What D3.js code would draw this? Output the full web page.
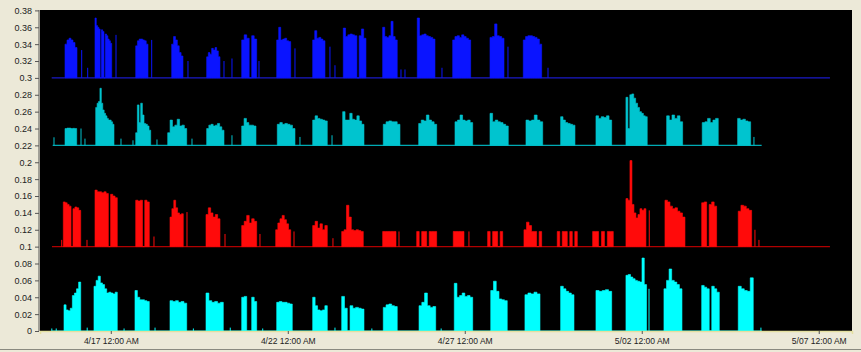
<!DOCTYPE html>
<html><head><meta charset="utf-8">
<script src="https://cdn.jsdelivr.net/npm/d3@7"></script>
<style>body{margin:0;background:#ece9d8;} svg{display:block}</style>
</head><body><svg id="c" width="861" height="352"></svg>
<script>
// ---------- DATA ----------
const xTicks = ["4/17 00:00","4/22 00:00","4/27 00:00","5/02 00:00","5/07 00:00"];
const yTicks = [0,0.02,0.04,0.06,0.08,0.1,0.12,0.14,0.16,0.18,0.2,0.22,0.24,0.26,0.28,0.3,0.32,0.34,0.36,0.38];
const timeDomain = ["4/15 00:00","5/07 22:33"];

const seriesNames = ["blue","teal","red","cyan"];
const seriesBase = [0.3, 0.22, 0.1, 0];
const seriesSpan = [["4/15 07:56","5/07 07:36"],["4/15 08:36","5/05 09:18"],["4/15 08:08","5/07 07:36"],["4/15 08:00","5/05 09:18"]];

// blocks: [start, end, profile values across the block]
const blueBlocks = [
 ["4/15 16:57","4/16 01:05",[0.34,0.345,0.347,0.345,0.342,0.336]],
 ["4/16 13:17","4/17 00:37",[0.371,0.362,0.36,0.358,0.3,0.357,0.355,0.3,0.352,0.35,0.346,0.344,0.341]],
 ["4/17 16:53","4/18 01:13",[0.338,0.344,0.346,0.346,0.345,0.344,0.34]],
 ["4/18 17:17","4/19 00:57",[0.34,0.349,0.345,0.338,0.33,0.326]],
 ["4/19 17:00","4/20 02:02",[0.325,0.33,0.328,0.335,0.333,0.336,0.332,0.325]],
 ["4/20 16:45","4/21 02:55",[0.345,0.351,0.347,0.3,0.35,0.346]],
 ["4/21 16:29","4/22 01:58",[0.345,0.36,0.345,0.346,0.347,0.344,0.343]],
 ["4/22 16:53","4/23 01:13",[0.345,0.356,0.347,0.348,0.346,0.344]],
 ["4/23 13:38","4/24 05:00",[0.359,0.349,0.351,0.352,0.351,0.35,0.3,0.35,0.358,0.347]],
 ["4/24 16:20","4/25 02:13",[0.36,0.349,0.348,0.35,0.367,0.349,0.345]],
 ["4/25 15:48","4/26 03:48",[0.371,0.35,0.351,0.352,0.35,0.349,0.348,0.346]],
 ["4/26 15:48","4/27 04:00",[0.345,0.349,0.35,0.348,0.351,0.349,0.347,0.345]],
 ["4/27 17:06","4/28 02:36",[0.348,0.349,0.364,0.35,0.349,0.347]],
 ["4/28 15:40","4/29 04:08",[0.345,0.349,0.35,0.35,0.349,0.348,0.346,0.34]]
];
const blueSpikes = [["4/16 04:16",0.333],["4/16 08:20",0.312],["4/17 03:32",0.351],["4/18 03:44",0.345],["4/19 04:20",0.32],["4/20 04:45",0.32],["4/20 10:10",0.323],["4/21 04:29",0.32],["4/22 04:53",0.335],["4/23 04:36",0.337],["4/23 08:00",0.315],["4/25 04:45",0.31],["4/25 07:28",0.31],["4/26 08:33",0.312],["4/28 05:18",0.337],["4/29 08:26",0.312]];

const tealBlocks = [
 ["4/15 16:57","4/16 00:53",[0.24,0.2405,0.2405,0.24,0.2402,0.24]],
 ["4/16 13:46","4/17 02:10",[0.265,0.27,0.272,0.2877,0.27,0.262,0.258,0.255,0.252,0.25,0.25,0.248,0.245]],
 ["4/17 16:53","4/18 03:03",[0.235,0.268,0.247,0.27,0.256,0.246,0.245,0.243,0.238]],
 ["4/18 14:35","4/19 03:28",[0.235,0.25,0.242,0.244,0.251,0.243,0.244,0.24]],
 ["4/19 17:00","4/20 04:45",[0.24,0.244,0.245,0.243,0.244,0.246,0.242,0.238]],
 ["4/20 16:45","4/21 02:26",[0.243,0.252,0.247,0.244,0.244,0.243]],
 ["4/21 16:53","4/22 04:53",[0.245,0.247,0.245,0.246,0.245,0.244,0.24]],
 ["4/22 16:53","4/23 02:47",[0.25,0.255,0.252,0.251,0.25,0.249]],
 ["4/23 13:13","4/24 03:40",[0.26,0.25,0.25,0.258,0.251,0.25,0.255,0.249,0.245]],
 ["4/24 16:45","4/25 04:04",[0.245,0.248,0.249,0.248,0.248,0.245]],
 ["4/25 16:45","4/26 04:57",[0.246,0.25,0.249,0.256,0.25,0.248,0.245]],
 ["4/26 17:22","4/27 05:22",[0.248,0.25,0.256,0.25,0.249,0.25,0.247]],
 ["4/27 17:06","4/28 05:30",[0.258,0.248,0.25,0.248,0.247,0.245,0.243]],
 ["4/28 17:30","4/29 04:50",[0.25,0.249,0.25,0.256,0.25,0.248]],
 ["4/29 17:00","4/30 02:43",[0.254,0.25,0.247,0.246,0.245,0.244]],
 ["4/30 16:57","5/01 03:36",[0.255,0.252,0.254,0.253,0.255,0.25]],
 ["5/01 13:17","5/02 03:43",[0.277,0.24,0.28,0.281,0.276,0.27,0.265,0.26,0.258,0.255,0.254]],
 ["5/02 16:53","5/03 03:43",[0.255,0.25,0.256,0.252,0.255,0.248]],
 ["5/03 17:00","5/04 03:52",[0.247,0.248,0.252,0.247,0.25,0.252]],
 ["5/04 17:00","5/05 01:49",[0.252,0.25,0.251,0.249,0.248]]
];
const tealSpikes = [["4/15 09:29",0.2296],["4/16 03:48",0.24],["4/16 06:30",0.228],["4/17 06:55",0.228],["4/17 15:03",0.226],["4/18 07:19",0.227],["4/19 07:03",0.228],["4/20 10:10",0.232],["4/22 08:16",0.23],["4/23 06:00",0.232],["5/05 04:04",0.23]];

const redBlocks = [
 ["4/15 15:48","4/16 03:36",[0.153,0.152,0.15,0.148,0.1,0.145,0.147,0.146,0.143]],
 ["4/16 13:17","4/17 04:24",[0.167,0.165,0.165,0.164,0.165,0.163,0.1,0.162,0.16,0.158]],
 ["4/17 16:53","4/18 02:06",[0.155,0.154,0.155,0.1,0.155,0.153]],
 ["4/18 16:08","4/19 01:09",[0.135,0.145,0.155,0.146,0.14,0.138,0.139]],
 ["4/19 16:33","4/20 02:02",[0.138,0.146,0.14,0.135,0.138,0.133]],
 ["4/20 16:45","4/21 02:55",[0.125,0.13,0.137,0.128,0.133,0.13]],
 ["4/21 15:48","4/22 01:58",[0.12,0.128,0.133,0.137,0.132,0.127,0.12]],
 ["4/22 16:53","4/23 02:47",[0.125,0.13,0.122,0.127,0.12,0.125]],
 ["4/23 12:33","4/24 03:12",[0.118,0.12,0.149,0.135,0.12,0.119,0.12,0.119,0.118]],
 ["4/24 16:20","4/25 01:22",[0.118,0.118,0.118,0.118,0.118]],
 ["4/25 15:24","4/26 04:57",[0.118,0.1,0.118,0.118,0.1,0.118,0.118,0.118]],
 ["4/26 16:12","4/26 23:28",[0.118,0.118,0.118,0.118]],
 ["4/27 15:30","4/28 01:42",[0.118,0.1,0.118,0.118,0.1,0.118]],
 ["4/28 16:08","4/29 04:08",[0.12,0.129,0.125,0.118,0.118,0.1,0.118]],
 ["4/29 14:42","4/30 04:18",[0.118,0.1,0.118,0.118,0.1,0.118,0.1,0.118]],
 ["4/30 14:42","5/01 04:42",[0.118,0.118,0.1,0.118,0.1,0.118,0.118]],
 ["5/01 13:17","5/02 02:50",[0.157,0.155,0.202,0.15,0.14,0.134,0.138,0.145,0.143,0.145]],
 ["5/02 15:44","5/03 05:18",[0.155,0.153,0.148,0.145,0.146,0.142,0.14,0.135]],
 ["5/03 16:38","5/04 02:46",[0.152,0.153,0.1,0.15,0.153,0.148]],
 ["5/04 17:26","5/05 02:30",[0.142,0.149,0.148,0.145,0.143]]
];
const redSpikes = [["4/15 14:43",0.108],["4/16 07:52",0.108],["4/18 05:17",0.112],["4/19 03:40",0.141],["4/20 05:26",0.115],["4/21 05:09",0.115],["4/22 04:13",0.118],["4/23 06:38",0.11],["4/25 03:24",0.118],["4/27 02:50",0.118],["5/02 05:05",0.143],["5/05 04:45",0.12],["5/05 07:28",0.108]];

const cyanBlocks = [
 ["4/15 16:16","4/16 03:36",[0.031,0.025,0.024,0.027,0.042,0.045,0.05,0.058]],
 ["4/16 12:36","4/17 04:24",[0.053,0.06,0.065,0.057,0.055,0.05,0.045,0.046,0.045,0.044,0.046]],
 ["4/17 16:24","4/18 02:06",[0.048,0.04,0.037,0.037,0.036,0.035]],
 ["4/18 16:08","4/19 03:28",[0.036,0.035,0.036,0.034,0.035,0.033]],
 ["4/19 16:33","4/20 04:17",[0.045,0.036,0.034,0.035,0.033,0.034]],
 ["4/20 16:45","4/21 02:55",[0.04,0.041,0,0,0.04,0.035]],
 ["4/21 16:29","4/22 03:03",[0.034,0.035,0.034,0.034,0.033,0.032]],
 ["4/22 16:53","4/23 02:47",[0.04,0.03,0.025,0.024,0.025,0.03]],
 ["4/23 12:33","4/24 03:40",[0.041,0.027,0,0.03,0.027,0.028,0.027,0.026]],
 ["4/24 16:45","4/25 02:13",[0.028,0.031,0.032,0.03,0.029]],
 ["4/25 17:00","4/26 04:17",[0.03,0.034,0.045,0.03,0.028,0.029]],
 ["4/26 16:54","4/27 05:22",[0.0565,0.04,0.042,0.045,0.041,0.042,0.04]],
 ["4/27 17:36","4/28 04:48",[0.048,0.059,0.047,0.038,0.037,0.036]],
 ["4/28 16:48","4/29 03:00",[0.043,0.045,0.044,0.046,0.044]],
 ["4/29 17:00","4/30 02:03",[0.053,0.05,0.047,0.045,0.043]],
 ["4/30 16:57","5/01 03:36",[0.048,0.047,0.048,0.049,0.047]],
 ["5/01 13:17","5/02 03:16",[0.066,0.067,0.064,0.062,0.06,0.059,0.058,0.0865,0.055]],
 ["5/02 15:03","5/03 03:16",[0.05,0.06,0.0735,0.06,0.058,0.055,0.05]],
 ["5/03 16:38","5/04 04:34",[0.054,0.052,0.05,0,0.053,0.05,0.046]],
 ["5/04 17:26","5/05 03:36",[0.053,0.05,0.048,0.047,0.063]]
];
const cyanSpikes = [["4/15 08:00",0.003],["4/15 11:00",0.003],["4/16 08:00",0.004],["4/17 09:00",0.003],["4/18 06:00",0.004],["4/19 08:00",0.003],["4/20 09:00",0.004],["4/21 07:00",0.003],["4/23 08:00",0.004],["4/24 09:00",0.003],["4/26 08:00",0.003],["5/02 04:55",0.05],["5/05 08:48",0.004]];

const seriesBlocks = [blueBlocks, tealBlocks, redBlocks, cyanBlocks];
const seriesSpikes = [blueSpikes, tealSpikes, redSpikes, cyanSpikes];
const seriesFill = ["#0a14ff","#00c4cf","#ff0a0a","#00ffff"];
const seriesLine = ["#1a1ac8","#00aab4","#b00000","#00e0e0"];

// ---------- DRAW ----------
const P = d3.timeParse("%Y/%m/%d %H:%M");
const T = s => P("2008/" + s);
const svg = d3.select("#c");
const L = 40, R = 852, TOP = 10, BOT = 331;
const x = d3.scaleTime().domain(timeDomain.map(T)).range([L, R]);
const y = d3.scaleLinear().domain([0, 0.38]).range([BOT, TOP + 0.4]);

svg.append("rect").attr("x",0).attr("y",0).attr("width",861).attr("height",352).attr("fill","#ece9d8");
svg.append("line").attr("x1",0).attr("x2",861).attr("y1",349.5).attr("y2",349.5).attr("stroke","#8a8a80");
svg.append("rect").attr("x",L).attr("y",TOP).attr("width",R-L).attr("height",BOT-TOP).attr("fill","#000");

const g = svg.append("g");
seriesNames.forEach((nm, si) => {
  const base = seriesBase[si];
  const gs = g.append("g").attr("class", nm);
  // baseline
  gs.append("line")
    .attr("x1", x(T(seriesSpan[si][0]))).attr("x2", x(T(seriesSpan[si][1])))
    .attr("y1", y(base)).attr("y2", y(base))
    .attr("stroke", seriesLine[si]).attr("stroke-width", 1.2);
  // spikes
  gs.selectAll("line.sp").data(seriesSpikes[si]).join("line").attr("class","sp")
    .attr("x1", d => x(T(d[0]))).attr("x2", d => x(T(d[0])))
    .attr("y1", y(base)).attr("y2", d => y(d[1]))
    .attr("stroke", seriesFill[si]).attr("stroke-width", 1);
  // blocks
  const area = d3.area().x(d => x(d.t)).y0(y(base)).y1(d => y(d.v)).curve(d3.curveStepAfter);
  seriesBlocks[si].forEach(b => {
    const t0 = T(b[0]), t1 = T(b[1]), n = b[2].length;
    const w = (t1 - t0) / n;
    const pts = b[2].map((v, i) => ({t: new Date(+t0 + i * w), v}));
    pts.push({t: t1, v: b[2][n - 1]});
    gs.append("path").attr("d", area(pts))
      .attr("fill", seriesFill[si]).attr("stroke", seriesFill[si]).attr("stroke-width", 0.6);
  });
});

// axes
const fmt = d3.timeFormat("%-m/%d %I:%M %p");
const xa = svg.append("g").attr("transform", `translate(0,${BOT})`)
  .call(d3.axisBottom(x).tickValues(xTicks.map(T)).tickFormat(fmt).tickSize(3).tickPadding(4));
xa.select(".domain").attr("stroke","#e4e0a0").attr("stroke-width",1.5);
xa.selectAll(".tick line").attr("stroke","#555");
xa.selectAll("text").attr("fill","#222").style("font-family","'Liberation Sans', Arial, sans-serif").style("font-size","8.5px");

const ya = svg.append("g").attr("transform", `translate(${L - 1},0)`)
  .call(d3.axisLeft(y).tickValues(yTicks).tickFormat(d => String(+d.toFixed(2))).tickSize(4).tickPadding(3));
ya.select(".domain").attr("stroke","#555").attr("d", `M0,${TOP}V${BOT}`);
ya.selectAll(".tick line").attr("stroke","#555");
ya.selectAll("text").attr("fill","#222").style("font-family","'Liberation Sans', Arial, sans-serif").style("font-size","9px");
</script></body></html>
